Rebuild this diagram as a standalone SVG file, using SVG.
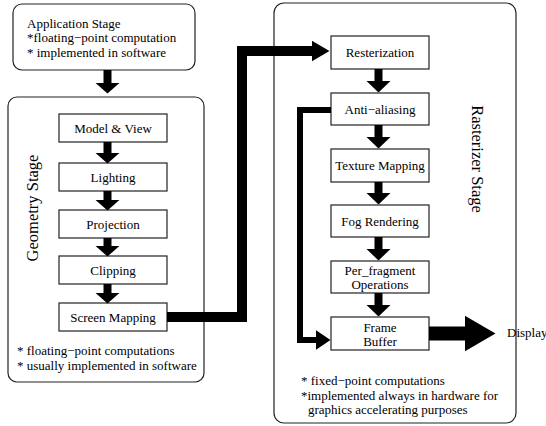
<svg xmlns="http://www.w3.org/2000/svg" width="546" height="426" viewBox="0 0 546 426">
<style>
text{font-family:"Liberation Serif","Times New Roman",serif;font-size:13px;fill:#000}
.c{text-anchor:middle}
.stage{font-size:16.5px}
.panel{fill:#fff;stroke:#222;stroke-width:1.2}
.box{fill:#fff;stroke:#222;stroke-width:1.2}
.flow{fill:none;stroke:#000;stroke-linejoin:miter}
</style>
<defs>
<marker id="hg" markerUnits="userSpaceOnUse" viewBox="0 0 11 25" refX="0.5" refY="12.5" markerWidth="11" markerHeight="25" orient="auto"><path d="M0,0 L11,12.5 L0,25 z" fill="#000"/></marker>
<marker id="hr" markerUnits="userSpaceOnUse" viewBox="0 0 12 25" refX="0.5" refY="12.5" markerWidth="12" markerHeight="25" orient="auto"><path d="M0,0 L12,12.5 L0,25 z" fill="#000"/></marker>
<marker id="hbig" markerUnits="userSpaceOnUse" viewBox="0 0 18 21" refX="0.5" refY="10.5" markerWidth="18" markerHeight="21" orient="auto"><path d="M0,0 L18,10.5 L0,21 z" fill="#000"/></marker>
<marker id="hside" markerUnits="userSpaceOnUse" viewBox="0 0 15 20" refX="0.5" refY="10" markerWidth="15" markerHeight="20" orient="auto"><path d="M0,0 L15,10 L0,20 z" fill="#000"/></marker>
<marker id="hdisp" markerUnits="userSpaceOnUse" viewBox="0 0 31 36" refX="0.5" refY="18" markerWidth="31" markerHeight="36" orient="auto"><path d="M0,0 L31,18 L0,36 z" fill="#000"/></marker>
</defs>

<g id="application-stage">
<rect class="panel" x="13" y="4" width="182" height="66" rx="9"/>
<text x="27" y="27.5">Application Stage</text>
<text x="27" y="42">*floating−point computation</text>
<text x="27" y="56.5">* implemented in software</text>
</g>

<g id="geometry-stage">
<rect class="panel" x="8" y="97" width="196" height="285" rx="9"/>
<text class="c stage" transform="translate(38,208) rotate(-90)">Geometry Stage</text>
<text x="17" y="355">* floating−point computations</text>
<text x="17" y="369.5">* usually implemented in software</text>
</g>

<g id="model-view"><rect class="box" x="59" y="114" width="108" height="28"/><text class="c" x="113" y="132.5">Model &amp; View</text></g>
<g id="lighting"><rect class="box" x="59" y="163" width="108" height="28"/><text class="c" x="113" y="181.5">Lighting</text></g>
<g id="projection"><rect class="box" x="59" y="210" width="108" height="28"/><text class="c" x="113" y="228.5">Projection</text></g>
<g id="clipping"><rect class="box" x="59" y="256" width="108" height="28"/><text class="c" x="113" y="274.5">Clipping</text></g>
<g id="screen-mapping"><rect class="box" x="59" y="303" width="108" height="28"/><text class="c" x="113" y="321.5">Screen Mapping</text></g>

<g id="rasterizer-stage">
<rect class="panel" x="274" y="3" width="242" height="420" rx="10"/>
<text class="c stage" transform="translate(472,159) rotate(90)">Rasterizer Stage</text>
<text x="301" y="385">* fixed−point computations</text>
<text x="301" y="400">*implemented always in hardware for</text>
<text x="308" y="414">graphics accelerating purposes</text>
</g>

<g id="resterization"><rect class="box" x="331" y="36" width="98" height="33"/><text class="c" x="380" y="57">Resterization</text></g>
<g id="anti-aliasing"><rect class="box" x="331" y="93" width="98" height="32"/><text class="c" x="380" y="113.5">Anti−aliasing</text></g>
<g id="texture-mapping"><rect class="box" x="331" y="149" width="98" height="33"/><text class="c" x="380" y="170">Texture Mapping</text></g>
<g id="fog-rendering"><rect class="box" x="331" y="205" width="98" height="32"/><text class="c" x="380" y="225.5">Fog Rendering</text></g>
<g id="per-fragment"><rect class="box" x="331" y="261" width="98" height="32"/><text class="c" x="380" y="275">Per_fragment</text><text class="c" x="380" y="288.5">Operations</text></g>
<g id="frame-buffer"><rect class="box" x="331" y="317" width="98" height="33"/><text class="c" x="380" y="332">Frame</text><text class="c" x="380" y="345.5">Buffer</text></g>

<g id="display"><text x="507" y="337">Display</text></g>

<g id="connectors">
<line class="flow" stroke-width="8" x1="107.5" y1="70" x2="107.5" y2="83" marker-end="url(#hg)"/>
<line class="flow" stroke-width="8" x1="107.5" y1="142" x2="107.5" y2="153" marker-end="url(#hg)"/>
<line class="flow" stroke-width="8" x1="107.5" y1="191" x2="107.5" y2="200" marker-end="url(#hg)"/>
<line class="flow" stroke-width="8" x1="107.5" y1="238" x2="107.5" y2="246" marker-end="url(#hg)"/>
<line class="flow" stroke-width="8" x1="107.5" y1="284" x2="107.5" y2="293" marker-end="url(#hg)"/>

<line class="flow" stroke-width="8" x1="378.5" y1="69" x2="378.5" y2="81" marker-end="url(#hr)"/>
<line class="flow" stroke-width="8" x1="378.5" y1="125" x2="378.5" y2="137" marker-end="url(#hr)"/>
<line class="flow" stroke-width="8" x1="378.5" y1="182" x2="378.5" y2="193" marker-end="url(#hr)"/>
<line class="flow" stroke-width="8" x1="378.5" y1="237" x2="378.5" y2="249" marker-end="url(#hr)"/>
<line class="flow" stroke-width="8" x1="378.5" y1="293" x2="378.5" y2="305" marker-end="url(#hr)"/>

<path class="flow" stroke-width="10" d="M167,317 H242 V51 H312" marker-end="url(#hbig)"/>
<path class="flow" stroke-width="6" d="M331,110 H300 V340 H316" marker-end="url(#hside)"/>
<line class="flow" stroke-width="14" x1="429" y1="333.5" x2="465" y2="333.5" marker-end="url(#hdisp)"/>
</g>
</svg>
